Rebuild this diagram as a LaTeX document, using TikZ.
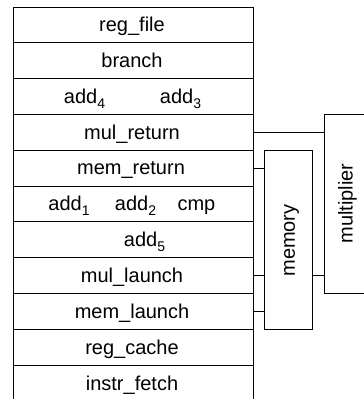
\documentclass[tikz,border=0pt]{standalone}
\usepackage{fontspec}
\setmainfont{Liberation Sans}
\newcommand\lowidx[1]{\raisebox{-5pt}{\fontsize{14}{14}\selectfont #1}}
\begin{document}
\begin{tikzpicture}[x=1pt,y=-1pt,
  line width=0.9pt,
  rowbox/.style={draw, minimum width=240pt, minimum height=35.8pt, inner sep=0pt, outer sep=0pt},
  unitbox/.style={draw, inner sep=0pt, outer sep=0pt, anchor=north west},
  lbl/.style={inner sep=0pt, anchor=base, font=\fontsize{20}{24}\selectfont},
  vlbl/.style={inner sep=0pt, anchor=center, rotate=90, font=\fontsize{20}{24}\selectfont},
  wire/.style={draw}]
\useasboundingbox (0,0) rectangle (364,399);
\clip (0,0) rectangle (364,399);

% pipeline stages, top to bottom
\foreach \k in {1,...,11}{
  \node[rowbox] (r\k) at (133, 7+35.8*\k-17.9) {};
}

% stage labels
\node[lbl] (t1) at (132, 24.9+6.8) {reg\_file};
\node[lbl] (t2) at (132, 60.7+6.8) {branch};
\node[lbl] (t3a) at (84.5, 96.5+6.8) {add\lowidx{4}};
\node[lbl] (t3b) at (180.5, 96.5+6.8) {add\lowidx{3}};
\node[lbl] (t4) at (132, 132.3+6.8) {mul\_return};
\node[lbl] (t5) at (131, 168.1+6.8) {mem\_return};
\node[lbl] (t6a) at (69, 203.9+6.8) {add\lowidx{1}};
\node[lbl] (t6b) at (135.5, 203.9+6.8) {add\lowidx{2}};
\node[lbl] (t6c) at (196.4, 203.9+6.8) {cmp};
\node[lbl] (t7) at (144.5, 239.7+6.8) {add\lowidx{5}};
\node[lbl] (t8) at (132, 275.5+7.3) {mul\_launch};
\node[lbl] (t9) at (132, 311.3+7.3) {mem\_launch};
\node[lbl] (t10) at (132, 347.1+7.1) {reg\_cache};
\node[lbl] (t11) at (132, 382.9+7.1) {instr\_fetch};

% functional units
\node[unitbox, minimum width=48.4pt, minimum height=179pt] (mem) at (264.3, 150.2) {};
\node[unitbox, minimum width=46pt, minimum height=179pt] (mul) at (324.3, 114.4) {};
\node[vlbl] (memlbl) at (291.5, 240.5) {memory};
\node[vlbl] (mullbl) at (347.5, 203.5) {multiplier};

% connections between stages and units
\draw[wire] (r4.east) -- (r4.east -| mul.west);
\draw[wire] (r5.east) -- (r5.east -| mem.west);
\draw[wire] (r8.east) -- (r8.east -| mem.west);
\draw[wire] (r8.east -| mem.east) -- (r8.east -| mul.west);
\draw[wire] (r9.east) -- (r9.east -| mem.west);
\end{tikzpicture}
\end{document}
